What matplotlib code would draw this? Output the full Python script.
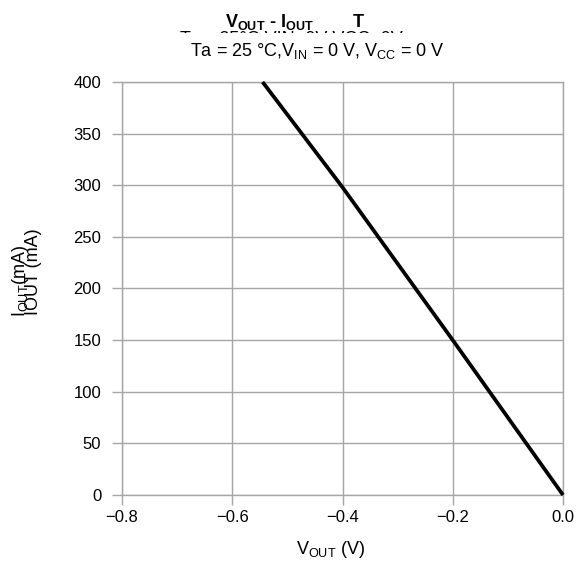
import matplotlib
matplotlib.use("Agg")
import matplotlib.pyplot as plt
from matplotlib.patches import Rectangle

plt.rcParams["font.family"] = ["Liberation Sans", "DejaVu Sans"]
plt.rcParams["mathtext.default"] = "regular"

# Output voltage (V) vs output current (mA)
vout = [0.0, -0.2, -0.4, -0.545]
iout = [0, 150, 298, 400]

x_ticks = [-0.8, -0.6, -0.4, -0.2, 0.0]
y_ticks = [0, 50, 100, 150, 200, 250, 300, 350, 400]

fig = plt.figure(figsize=(5.83, 5.67), dpi=100)
ax = fig.add_axes([0.2093, 0.127, 0.7564, 0.7284])

grid_col = "#a6a6a6"
ax.plot(vout, iout, color="black", linewidth=2.7, solid_capstyle="butt", zorder=3, clip_on=False)

ax.set_xlim(-0.8, 0.0)
ax.set_ylim(0, 400)
ax.set_xticks(x_ticks)
ax.set_yticks(y_ticks)
ax.set_xticklabels(["\u22120.8", "\u22120.6", "\u22120.4", "\u22120.2", "0.0"])
ax.grid(True, color=grid_col, linewidth=1.0)
for s in ax.spines.values():
    s.set_color(grid_col)
    s.set_linewidth(1.0)
ax.tick_params(axis="both", colors=grid_col, labelcolor="black", labelsize=12,
               length=7, width=1.0, direction="out")
ax.tick_params(axis="x", pad=4)
ax.tick_params(axis="y", pad=8)

# titles (overlapping layers as in the source)
fig.text(0.507, 0.962, "V$_{OUT}$ - I$_{OUT}$        T", ha="center", va="center",
         fontsize=13, fontweight="bold")
fig.text(0.5, 0.93, "Ta = 25\u00b0C VIN=0V VCC=0V", ha="center", va="center",
         fontsize=13, zorder=1)
fig.patches.append(Rectangle((0.0, 0.895), 1.0, 0.047, transform=fig.transFigure,
                             facecolor="white", edgecolor="none", zorder=2))
fig.text(0.545, 0.91, "Ta = 25 \u00b0C,V$_{IN}$ = 0 V, V$_{CC}$ = 0 V", ha="center",
         va="center", fontsize=13, zorder=3)

# axis labels
fig.text(0.036, 0.505, "I$_{OUT}$(mA)", rotation=90, ha="center", va="center", fontsize=13)
fig.text(0.058, 0.52, "IOUT (mA)", rotation=90, ha="center", va="center", fontsize=13)
fig.text(0.567, 0.03, "V$_{OUT}$ (V)", ha="center", va="center", fontsize=13)

fig.savefig("out.png", dpi=100)
